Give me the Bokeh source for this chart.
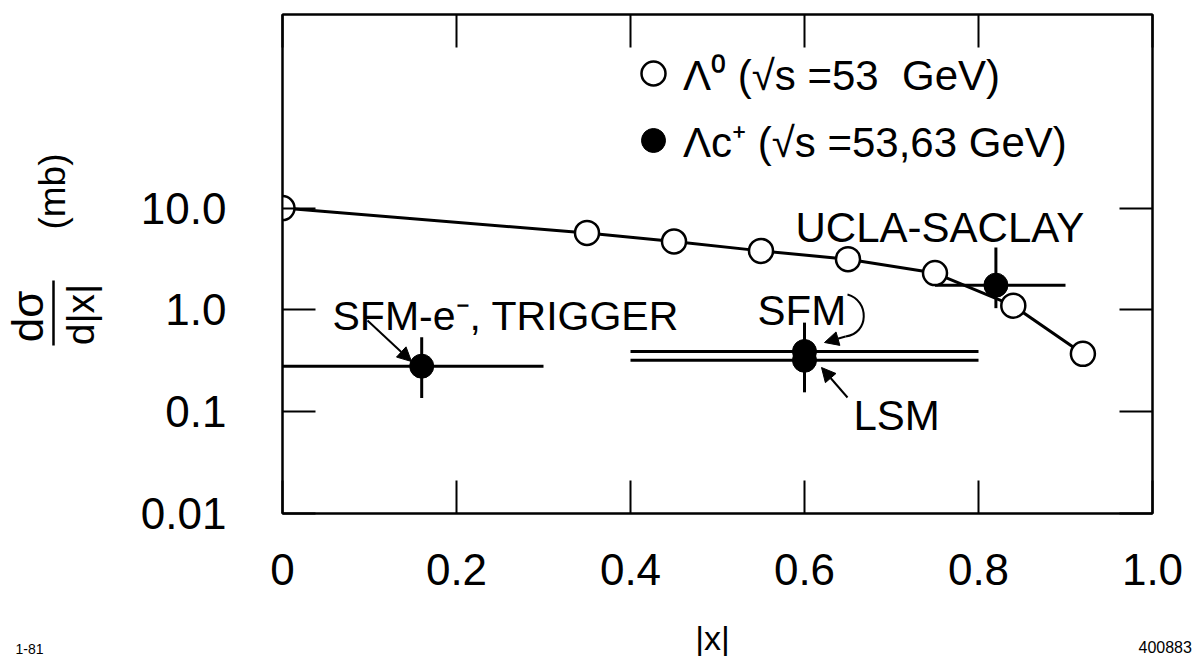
import math
from bokeh.plotting import figure
from bokeh.layouts import row, column
from bokeh.models import (Range1d, FixedTicker, CustomJSTickFormatter, LinearAxis, LogAxis,
                          Label, Arrow, NormalHead, Legend, LegendItem)
from bokeh.embed import file_html
from bokeh.resources import INLINE

# ---------------- data ----------------
lam0_x = [0.0, 0.35, 0.45, 0.55, 0.65, 0.75, 0.84, 0.92]
lam0_y = [10.0, 5.7, 4.7, 3.8, 3.15, 2.3, 1.1, 0.37]

lamc_names = ["SFM-e⁻, TRIGGER", "SFM", "LSM", "UCLA-SACLAY"]
lamc_x = [0.16, 0.60, 0.60, 0.82]
lamc_y = [0.28, 0.39, 0.32, 1.75]
lamc_x_lo = [0.0, 0.40, 0.40, 0.75]
lamc_x_hi = [0.30, 0.80, 0.80, 0.90]
lamc_y_lo = [0.136, 0.22, 0.155, 1.04]
lamc_y_hi = [0.54, 0.75, 0.42, 4.1]

x_ticks = [0, 0.2, 0.4, 0.6, 0.8, 1.0]
x_tick_labels = ["0", "0.2", "0.4", "0.6", "0.8", "1.0"]
y_ticks = [0.01, 0.1, 1, 10]
y_tick_labels = ["0.01", "0.1", "1.0", "10.0"]

legend_labels = ["Λ⁰ (√s =53  GeV)", "Λc⁺ (√s =53,63 GeV)"]

FONT = "Liberation Sans"

# ---------------- page geometry ----------------
PAGE_W, PAGE_H = 1200, 656
LEFT_W = 122                 # strip holding the rotated y title
TOP_H = 600                  # height of the row holding the plot
FX0, FX1 = 282.0, 1152.0     # frame left / right (page pixels)
FTOP, FBOT = 14.0, 513.0     # frame top / bottom (page pixels)
FW = FX1 - FX0
FY10, DEC = 207.6, 101.8     # page y of the 10.0 tick, pixels per decade


def X(px):
    return (px - FX0) / FW


def Y(py):
    return 10 ** (1 - (py - FY10) / DEC)


p = figure(width=PAGE_W - LEFT_W, height=TOP_H, title=None,
           x_range=Range1d(0, 1), y_range=Range1d(0.01, Y(FTOP)),
           y_axis_type="log", output_backend="svg", toolbar_location=None,
           min_border_left=int(FX0 - LEFT_W), min_border_right=int(PAGE_W - FX1),
           min_border_top=int(FTOP), min_border_bottom=int(TOP_H - FBOT))
p.background_fill_color = "white"
p.border_fill_color = "white"
p.grid.visible = False
p.outline_line_color = "black"
p.outline_line_width = 2


def fmt(tv, tl):
    return CustomJSTickFormatter(args=dict(tv=tv, tl=tl), code="""
        for (let i = 0; i < tv.length; i++) {
            if (Math.abs(tv[i] - tick) <= 1e-6 * Math.abs(tv[i]) + 1e-12) return tl[i];
        }
        return '';
    """)


def style(ax, show_labels):
    ax.axis_line_width = 2
    ax.axis_line_color = "black"
    ax.major_tick_in = 33
    ax.major_tick_out = 0
    ax.major_tick_line_width = 2
    ax.major_tick_line_color = "black"
    ax.minor_tick_line_color = None
    if show_labels:
        ax.major_label_text_font = FONT
        ax.major_label_text_font_size = "44px"
        ax.major_label_text_color = "black"
    else:
        ax.major_label_text_font_size = "0px"
        ax.major_label_text_color = None
        ax.major_label_standoff = 0


xa = p.xaxis[0]
xa.ticker = FixedTicker(ticks=x_ticks)
xa.formatter = fmt(x_ticks, x_tick_labels)
style(xa, True)
xa.major_label_standoff = 40

ya = p.yaxis[0]
ya.ticker = FixedTicker(ticks=y_ticks)
ya.formatter = fmt(y_ticks, y_tick_labels)
style(ya, True)
ya.major_label_standoff = 56

top = LinearAxis(ticker=FixedTicker(ticks=x_ticks))
style(top, False)
p.add_layout(top, "above")
right = LogAxis(ticker=FixedTicker(ticks=y_ticks))
style(right, False)
p.add_layout(right, "right")

# ---------------- marks ----------------
p.line(lam0_x, lam0_y, line_color="black", line_width=3)
p.segment(x0=lamc_x_lo, y0=lamc_y, x1=lamc_x_hi, y1=lamc_y, line_color="black", line_width=3)
p.segment(x0=lamc_x, y0=lamc_y_lo, x1=lamc_x, y1=lamc_y_hi, line_color="black", line_width=3)
r_c = p.scatter(lamc_x, lamc_y, marker="circle", size=24, fill_color="black", line_color="black")
r_0 = p.scatter(lam0_x, lam0_y, marker="circle", size=24, fill_color="white",
                line_color="black", line_width=2.5)

legend = Legend(items=[LegendItem(label=legend_labels[0], renderers=[r_0]),
                       LegendItem(label=legend_labels[1], renderers=[r_c])],
                location=(341, 343), padding=0, margin=0, spacing=7,
                glyph_width=60, glyph_height=60, label_standoff=0,
                label_text_font=FONT, label_text_font_size="42px", label_text_color="black",
                border_line_color=None, background_fill_alpha=0)
p.add_layout(legend)


def lab(fig, text, x, y, size, align="left", baseline="alphabetic", angle=0.0):
    fig.add_layout(Label(x=x, y=y, text=text, text_font=FONT,
                         text_font_size=f"{size}px", text_align=align,
                         text_baseline=baseline, angle=angle, text_color="black"))


# annotations inside the frame (page pixel -> data)
lab(p, lamc_names[0], X(332), Y(315), 41)
lab(p, lamc_names[1], X(757), Y(310), 42)
lab(p, lamc_names[2], X(853), Y(415), 42)
lab(p, lamc_names[3], X(795), Y(227), 42)


def arrow(x0, y0, x1, y1):
    p.add_layout(Arrow(end=NormalHead(size=14, fill_color="black", line_color="black"),
                       x_start=X(x0), y_start=Y(y0), x_end=X(x1), y_end=Y(y1),
                       line_width=2, line_color="black"))


arrow(367, 320, 411, 361)      # SFM-e trigger
arrow(847, 397, 821, 367)      # LSM
p.bezier(x0=[X(847)], y0=[Y(294)], x1=[X(845)], y1=[Y(336)],
         cx0=[X(869)], cy0=[Y(300)], cx1=[X(869)], cy1=[Y(333)],
         line_color="black", line_width=2)
arrow(845, 336, 824, 342)      # SFM


# ---------------- side strips (page pixel coordinates, y measured downward) ----------------
def strip(w, h, x0, ytop, ybot, btop=0, bbot=0):
    f = figure(width=w, height=h, title=None,
               x_range=Range1d(x0, x0 + w), y_range=Range1d(ybot, ytop),
               x_axis_type=None, y_axis_type=None, output_backend="svg", toolbar_location=None,
               min_border=0, min_border_left=0, min_border_right=0,
               min_border_top=btop, min_border_bottom=bbot)
    f.outline_line_color = None
    f.background_fill_color = "white"
    f.border_fill_color = "white"
    return f


# the row aligns this strip's frame with the plot frame (page y 14..513)
left = strip(LEFT_W, TOP_H, 0, FTOP, FBOT, int(FTOP), int(TOP_H - FBOT))
lab(left, "(mb)", 52, 191, 37, align="center", baseline="middle", angle=math.pi / 2)
lab(left, "dσ", 27, 316, 44, align="center", baseline="middle", angle=math.pi / 2)
lab(left, "d|x|", 80, 314, 39, align="center", baseline="middle", angle=math.pi / 2)
left.add_layout(Arrow(end=None, start=None, x_start=53, y_start=280, x_end=53, y_end=345,
                      line_width=2.5, line_color="black"))

bottom = strip(PAGE_W, PAGE_H - TOP_H, 0, TOP_H, PAGE_H)
lab(bottom, "|x|", 712, 637, 34, align="center", baseline="middle")
lab(bottom, "1-81", 15, 648, 14)
lab(bottom, "400883", 1138, 646, 16)

layout = column(row(left, p, spacing=0), bottom, spacing=0)

open("out.html", "w").write(file_html(layout, INLINE))
